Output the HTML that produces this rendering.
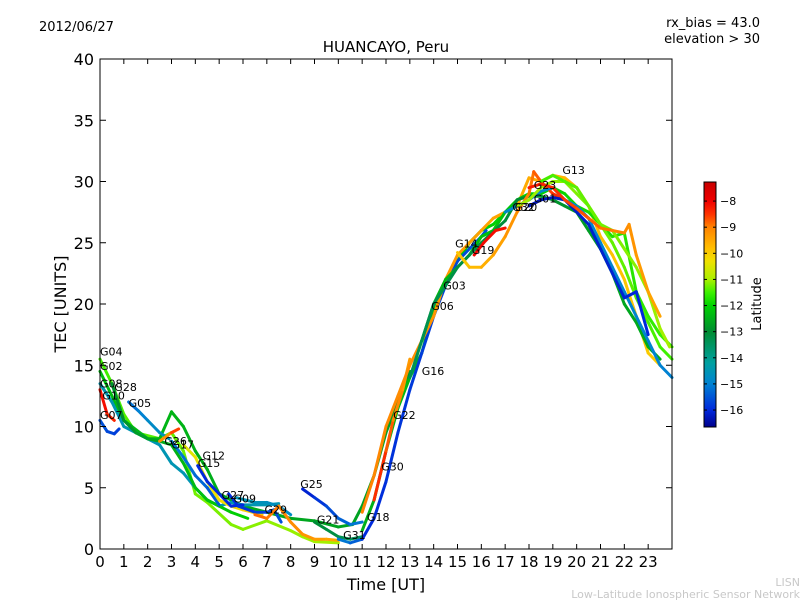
<!DOCTYPE html>
<html><head><meta charset="utf-8"><style>
body{margin:0;background:#fff;}
svg{display:block;font-family:"DejaVu Sans","Liberation Sans",sans-serif;}
</style></head><body>
<svg id="chart" width="800" height="600" viewBox="0 0 800 600">
<rect width="800" height="600" fill="#fff"/>
<text x="39" y="31" font-size="13">2012/06/27</text>
<text x="760" y="27" font-size="13" text-anchor="end">rx_bias = 43.0</text>
<text x="760" y="43" font-size="13" text-anchor="end">elevation &gt; 30</text>
<text x="386" y="52" font-size="15" text-anchor="middle">HUANCAYO, Peru</text>
<text x="386" y="590" font-size="16" text-anchor="middle">Time [UT]</text>
<text transform="translate(66,304) rotate(-90)" font-size="16" text-anchor="middle">TEC [UNITS]</text>
<text transform="translate(761,304) rotate(-90)" font-size="13" text-anchor="middle">Latitude</text>
<text x="800" y="586" font-size="11" fill="#c8c8c8" text-anchor="end">LISN</text>
<text x="800" y="598" font-size="11" fill="#c8c8c8" text-anchor="end">Low-Latitude Ionospheric Sensor Network</text>
<g id="marks"></g>
<g id="axes"></g>
</svg>
<script>
const xTicks=[0,1,2,3,4,5,6,7,8,9,10,11,12,13,14,15,16,17,18,19,20,21,22,23];
const yTicks=[0,5,10,15,20,25,30,35,40];
const cbTicks=[-8,-9,-10,-11,-12,-13,-14,-15,-16];
const satNames=["G04","G02","G08","G28","G10","G07","G05","G26","G17","G12","G15","G27","G09","G29","G25","G21","G31","G18","G30","G22","G16","G03","G06","G14","G19","G32","G20","G01","G13","G23"];
const satLat=[[-11.5,-11],[-12.3,-12.8],[-14.5,-14.5],[-13,-12],[-8,-8.5],[-15.5,-15.8],[-15.3,-14.5],[-9.5,-8.3],[-15,-15.5],[-10.5,-10],[-16,-16],[-16,-15.5],[-14.5,-14.8],[-8.8,-9.5],[-16.2,-15],[-13,-13.5],[-15,-15.5],[-12.5,-12],[-16,-15.5],[-8.3,-9.5],[-9,-10],[-12.5,-11.5],[-13.4,-12.5],[-10,-8],[-8,-8.2],[-14.8,-15],[-11,-11.5],[-16.3,-16],[-11.5,-11],[-8.2,-9.5]];
const satTime=[
[0,0.5,1,1.5,2.5,3,3.5,4,4.5,5.5,6,7,8,8.5,9,10],
[0,0.5,1,2,2.5,3,3.5,4,4.5,5,6,7,8,9,10,10.6,11,11.5,12,12.5,13],
[0,0.5,1,1.5,2.5,3,3.5,4,4.5,5,5.5,6,7,7.5],
[0.5,1,1.5,2,2.5,3,3.5,4,4.5,5.5,6.2],
[0,0.3,0.6],
[0,0.3,0.6,0.8],
[1.2,1.6,2,2.5,2.9],
[2.5,3,3.3],
[3,3.5,4,4.5,5],
[3.5,4,4.5,5,5.5,6,6.8],
[4.1,4.5,5,5.5,6],
[5.4,5.8,6.5,7,7.3,7.6],
[5.7,6.5,7,7.5,8],
[6.5,7,7.5,8,8.5,9,9.5,10],
[8.5,9,9.5,10,10.5,11],
[9,9.5,10,10.5,11],
[10,10.5,11],
[11,11.5,12,12.5,13,13.5,14,14.5,15,15.5,16,16.5,17],
[11,11.5,12,12.5,13,13.5,14,14.5,15,15.5,16,16.2],
[11.5,12,12.3,12.7,13],
[11,11.5,12,12.5,13,13.5,14,14.5,15,15.5,16,16.5,17,17.5,18,18.5,19,19.5,20,20.5,21,21.5,22,22.5,23,23.5],
[13.5,14,14.5,15,15.5,16,16.5,17,17.5,18,18.5,19,19.5,20,20.5,21,21.5,22,22.5,23,23.5,24],
[13,13.5,14,14.5,15,15.5,16,17,17.5,18,18.5,19,19.5,20,20.5,21,21.5,22,22.5,23,23.5],
[15,15.5,16,16.5,17,17.5,18,18.2,18.5,19,19.5,20,20.5],
[15.7,16.1,16.6,17],
[17,17.5,18,18.5,19,19.5,20,20.5,21,21.5,22,22.5,23,23.5,24],
[17.5,18,18.5,19,19.5,20,20.5,21,21.5,22,22.5,23,23.5,24],
[18,18.5,19,19.5,20,20.5,21,21.5,22,22.5,23],
[18.5,19,19.5,20,20.5,21,21.5,22,22.5,23,23.5,23.9],
[18,18.5,19,19.5,20,20.5,21,21.5,22,22.2,22.5,23,23.5]];
const satTec=[
[15.5,13.5,11,9.5,9,9.5,8,4.5,3.8,2,1.6,2.3,1.5,1,0.6,0.5],
[14.5,12.5,10.5,9,9,11.2,10,8,6.5,4.5,3.5,3,2.5,2.3,1.8,2,3.5,6,9.5,12,14.5],
[13.5,12,10,9.5,8.5,7,6.2,5,4,3.5,3.8,3.6,3.6,3.7],
[13.5,10.5,9.5,9,8.8,8.5,7,5,4,3,2.5],
[13,11,10.5],
[10.5,9.6,9.4,9.8],
[12,11.3,10.5,9.5,9],
[8.8,9.5,9.8],
[8.8,7.5,6,5,3.6],
[8.5,7.5,5.5,4,3.5,3.2,2.8],
[6.8,5.5,4.5,3.5,3.6],
[4.5,3.5,3,3,3.2,2.2],
[4.2,3.8,3.8,3.5,2.8],
[2.8,2.5,3.5,2.2,1.2,0.8,0.8,0.7],
[4.9,4.2,3.5,2.5,2,2.2],
[2.2,1.6,1,0.8,1],
[0.8,0.5,0.8],
[1.5,4,8,11.5,14,16,19.5,22,23.5,25,26,26.5,27.5],
[0.8,2.5,5.5,9.5,13,16,19,21.5,23.5,24.5,25.5,26],
[4,8,10.5,13,15.5],
[3,6,10,12.5,15,17,19,22,24,25,26,27,27.5,28,30.3,30,30.5,30.3,29.5,28,25.5,24,22,19,16,15],
[17,20,22,23,24,25.5,26,27.5,28.5,29,29,29.5,29,28,27.5,26.5,25.5,25.8,21,19,17.5,16.5],
[14,17,20,21.5,23,24,25,26.8,28.5,28.8,28.8,28.5,28,27.5,26,24.5,22.5,20,18.5,16.5,15.5],
[24.2,23,23,24,25.5,27.5,29,30.8,30,29,28.5,27.8,27],
[24,25,26,26.2],
[27.5,28,28.5,29.2,29.5,28.5,28,27,25,23,21,19,17,15,14],
[28,28.5,29.5,30,30,29,28,26.5,25,23,20.5,18.5,16.5,15.5],
[28,28.5,28.7,28.5,27.5,26.5,24.5,22.5,20.5,21,17.5],
[30,30.5,30,29.5,28,26.5,26,24.5,23,21,18,16.5],
[29.5,29.8,29.5,28.5,27.8,27,26.2,26,25.8,26.5,24,21,19]];
const labelAt=[[0,15.8],[0,14.6],[0,13.2],[0.6,12.9],[0.1,12.2],[0,10.6],[1.2,11.6],[2.7,8.5],[3,8.2],[4.3,7.3],[4.1,6.7],[5.1,4.1],[5.6,3.8],[6.9,2.9],[8.4,5],[9.1,2.1],[10.2,0.8],[11.2,2.3],[11.8,6.4],[12.3,10.6],[13.5,14.2],[14.4,21.2],[13.9,19.5],[14.9,24.6],[15.6,24.1],[17.3,27.6],[17.4,27.6],[18.2,28.3],[19.4,30.6],[18.2,29.4]];
const PL=100,PR=672,PT=59,PB=549;
const X=t=>PL+(t/24)*(PR-PL);
const Y=v=>PB-(v/40)*(PB-PT);
const LMIN=-16.65,LMAX=-7.27;
const stops=[[-16.65,[0,0,140]],[-16,[0,40,220]],[-15,[0,130,210]],[-14.2,[0,160,160]],[-13,[0,140,50]],[-12,[0,210,0]],[-11.5,[60,240,0]],[-11,[170,240,0]],[-10.3,[240,225,0]],[-9.8,[255,190,0]],[-9,[255,130,0]],[-8.5,[255,50,0]],[-8,[240,0,0]],[-7.27,[200,0,0]]];
function cmap(l){l=Math.max(LMIN,Math.min(LMAX,l));for(let i=0;i<stops.length-1;i++){const a=stops[i],b=stops[i+1];if(l<=b[0]){const f=(l-a[0])/(b[0]-a[0]);return 'rgb('+a[1].map((c,k)=>Math.round(c+(b[1][k]-c)*f)).join(',')+')';}}return 'rgb(200,0,0)';}
const NS='http://www.w3.org/2000/svg';
function mk(tag,at,parent){const e=document.createElementNS(NS,tag);for(const k in at)e.setAttribute(k,at[k]);parent.appendChild(e);return e;}
const marks=document.getElementById('marks');
const axes=document.getElementById('axes');
satNames.forEach((nm,i)=>{
  const g=mk('g',{},marks);
  
  
  const ts=satTime[i],vs=satTec[i],la=satLat[i];
  for(let j=0;j<ts.length-1;j++){
    const f=(j+0.5)/(ts.length-1);
    const seg=mk('line',{x1:X(ts[j]),y1:Y(vs[j]),x2:X(ts[j+1]),y2:Y(vs[j+1]),stroke:cmap(la[0]+(la[1]-la[0])*f),'stroke-width':3,'stroke-linecap':'round'},g);
    
    
  }
});
satNames.forEach((nm,i)=>{
  const t=mk('text',{x:X(labelAt[i][0]),y:Y(labelAt[i][1]),'font-size':11,fill:'#000'},marks);
  t.textContent=nm;
  
  
});
const frame=mk('rect',{x:PL,y:PT,width:PR-PL,height:PB-PT,fill:'none',stroke:'#000','stroke-width':1},axes);


xTicks.forEach(t=>{
  const x=X(t);
  mk('line',{x1:x,y1:PB,x2:x,y2:PB-5,stroke:'#000'},axes);
  mk('line',{x1:x,y1:PT,x2:x,y2:PT+5,stroke:'#000'},axes);
  const l=mk('text',{x:x,y:PB+18,'font-size':15,'text-anchor':'middle'},axes);
  l.textContent=t;
  
  
});
yTicks.forEach(v=>{
  const y=Y(v);
  mk('line',{x1:PL,y1:y,x2:PL+6,y2:y,stroke:'#000'},axes);
  mk('line',{x1:PR,y1:y,x2:PR-6,y2:y,stroke:'#000'},axes);
  const l=mk('text',{x:PL-6,y:y+6,'font-size':16,'text-anchor':'end'},axes);
  l.textContent=v;
  
  
});
// colorbar
const CBX=704,CBW=12,CBT=182,CBB=427;
const CY=l=>CBB-(l-LMIN)/(LMAX-LMIN)*(CBB-CBT);
const cb=mk('g',{},axes);


for(let y=CBT;y<CBB;y++){const l=LMAX-(y-CBT+0.5)/(CBB-CBT)*(LMAX-LMIN);mk('rect',{x:CBX,y:y,width:CBW,height:1.2,fill:cmap(l)},cb);}
mk('rect',{x:CBX,y:CBT,width:CBW,height:CBB-CBT,fill:'none',stroke:'#000'},cb);
cbTicks.forEach(l=>{
  const y=CY(l);
  mk('line',{x1:CBX,y1:y,x2:CBX+3,y2:y,stroke:'#000'},cb);
  mk('line',{x1:CBX+CBW,y1:y,x2:CBX+CBW-3,y2:y,stroke:'#000'},cb);
  const t=mk('text',{x:CBX+CBW+4,y:y+4,'font-size':11},cb);
  t.textContent='\u2212'+Math.abs(l);
  
  
});
</script>
</body></html>
